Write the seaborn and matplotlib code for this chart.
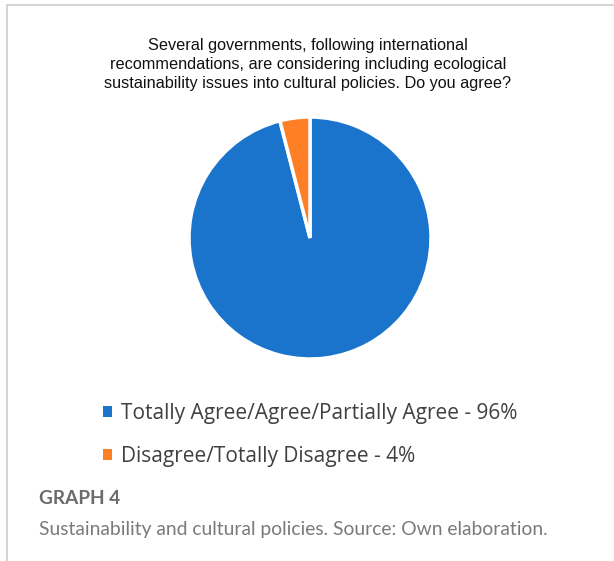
import matplotlib
matplotlib.use("Agg")
import matplotlib.pyplot as plt
import seaborn as sns
from matplotlib.lines import Line2D
from matplotlib.patches import Patch

sns.set_theme(style="white")
plt.rcParams['font.family'] = ['Open Sans', 'DejaVu Sans']

categories = ["Totally Agree/Agree/Partially Agree - 96%",
              "Disagree/Totally Disagree - 4%"]
values = [96, 4]
colors = ["#1B74CC", "#FF7F27"]

title = ("Several governments, following international\n"
         "recommendations, are considering including ecological\n"
         "sustainability issues into cultural policies. Do you agree?")
caption_head = "GRAPH 4"
caption_text = "Sustainability and cultural policies. Source: Own elaboration."

W, H = 614, 561
fig = plt.figure(figsize=(W / 100, H / 100), dpi=100)
fig.patch.set_facecolor("white")

# pie axes: center (310, 238), radius ~120 px
cx, cy, r = 310, 238, 121
ax = fig.add_axes([(cx - r) / W, (H - cy - r) / H, 2 * r / W, 2 * r / H])
ax.pie(values, colors=colors, startangle=90, counterclock=False,
       wedgeprops=dict(edgecolor="white", linewidth=2.5), radius=1.0)
ax.set_xlim(-1, 1)
ax.set_ylim(-1, 1)
ax.set_aspect("equal")
ax.axis("off")

# frame lines
fig.add_artist(Line2D([7 / W, 7 / W], [0, 1 - 5 / H], transform=fig.transFigure,
                      color="#cccccc", lw=1.2))
fig.add_artist(Line2D([7 / W, 1], [1 - 5 / H, 1 - 5 / H], transform=fig.transFigure,
                      color="#cccccc", lw=1.2))

# title
fig.text(308 / W, 1 - 64.5 / H, title, ha="center", va="center",
         fontsize=11.7, family=["Liberation Sans", "DejaVu Sans"],
         color="#111111", linespacing=1.36)

# legend
handles = [Patch(facecolor=c, edgecolor="none") for c in colors]
leg = fig.legend(handles, categories, loc="upper left",
                 bbox_to_anchor=(84 / W, 1 - 384 / H), frameon=False,
                 prop={"family": "Open Sans", "size": 15},
                 handlelength=0.42, handleheight=0.42, handletextpad=0.45,
                 labelspacing=1.05, labelcolor="#404040")

# caption
fig.text(39 / W, 1 - 498 / H, caption_head, ha="left", va="center",
         fontsize=13.7, fontweight="bold", family=["Lato", "DejaVu Sans"],
         color="#6b6b6b")
fig.text(39 / W, 1 - 529 / H, caption_text, ha="left", va="center",
         fontsize=13.9, family=["Lato", "DejaVu Sans"], color="#7a7a7a")

fig.savefig("out.png", dpi=100, facecolor="white")
